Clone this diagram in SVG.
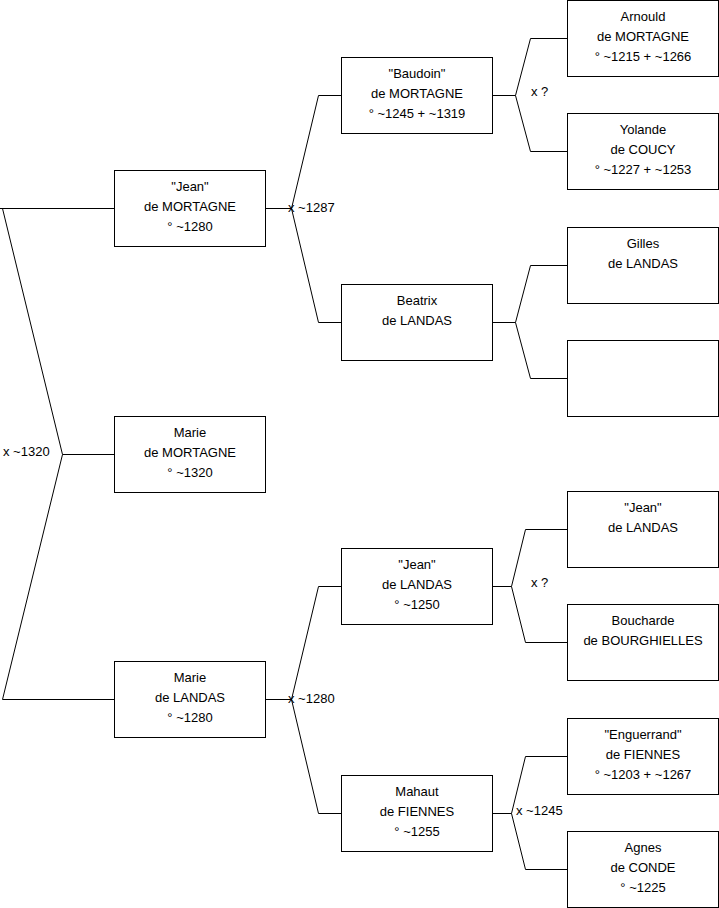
<svg xmlns="http://www.w3.org/2000/svg" width="719" height="908" viewBox="0 0 719 908">
<style>
.box{fill:#fff;stroke:#000;stroke-width:1}
.ln{fill:none;stroke:#000;stroke-width:1}
text{font-family:"Liberation Sans",Arial,sans-serif;font-size:13px;fill:#000}
.c{text-anchor:middle}
</style>
<rect width="719" height="908" fill="#fff"/>
<g id="connectors">
<polyline class="ln" points="114.5,208.5 0,208.5"/>
<polyline class="ln" points="2.5,208.5 62.5,454.5 2.5,699.5 114.5,699.5"/>
<line class="ln" x1="62.5" y1="454.5" x2="114.5" y2="454.5"/>
<line class="ln" x1="265.5" y1="208.5" x2="291.5" y2="208.5"/>
<polyline class="ln" points="341.5,95.5 318.5,95.5 291.5,208.5 318.5,322.5 341.5,322.5"/>
<line class="ln" x1="265.5" y1="699.5" x2="291.5" y2="699.5"/>
<polyline class="ln" points="341.5,586.5 318.5,586.5 291.5,699.5 318.5,813.5 341.5,813.5"/>
<line class="ln" x1="492.5" y1="95.5" x2="515.5" y2="95.5"/>
<polyline class="ln" points="567.5,38.5 530.5,38.5 515.5,95.5 530.5,151.5 567.5,151.5"/>
<line class="ln" x1="492.5" y1="322.5" x2="515.5" y2="322.5"/>
<polyline class="ln" points="567.5,265.5 530.5,265.5 515.5,322.5 530.5,378.5 567.5,378.5"/>
<line class="ln" x1="492.5" y1="586.5" x2="511.5" y2="586.5"/>
<polyline class="ln" points="567.5,529.5 525.5,529.5 511.5,586.5 525.5,642.5 567.5,642.5"/>
<line class="ln" x1="492.5" y1="813.5" x2="511.5" y2="813.5"/>
<polyline class="ln" points="567.5,756.5 525.5,756.5 511.5,813.5 525.5,869.5 567.5,869.5"/>
<text x="3" y="456">x ~1320</text>
<text x="288" y="212">x ~1287</text>
<text x="288" y="703">x ~1280</text>
<text x="531" y="96">x ?</text>
<text x="531" y="587">x ?</text>
<text x="516" y="815">x ~1245</text>
</g>
<g id="jean-mortagne"><rect class="box" x="114.5" y="170.5" width="151" height="76"/><text class="c" x="190" y="191">"Jean"</text><text class="c" x="190" y="211">de MORTAGNE</text><text class="c" x="190" y="231">° ~1280</text></g>
<g id="marie-mortagne"><rect class="box" x="114.5" y="416.5" width="151" height="76"/><text class="c" x="190" y="437">Marie</text><text class="c" x="190" y="457">de MORTAGNE</text><text class="c" x="190" y="477">° ~1320</text></g>
<g id="marie-landas"><rect class="box" x="114.5" y="661.5" width="151" height="76"/><text class="c" x="190" y="682">Marie</text><text class="c" x="190" y="702">de LANDAS</text><text class="c" x="190" y="722">° ~1280</text></g>
<g id="baudoin"><rect class="box" x="341.5" y="57.5" width="151" height="76"/><text class="c" x="417" y="78">"Baudoin"</text><text class="c" x="417" y="98">de MORTAGNE</text><text class="c" x="417" y="118">° ~1245 + ~1319</text></g>
<g id="beatrix"><rect class="box" x="341.5" y="284.5" width="151" height="76"/><text class="c" x="417" y="305">Beatrix</text><text class="c" x="417" y="325">de LANDAS</text></g>
<g id="jean-landas-2"><rect class="box" x="341.5" y="548.5" width="151" height="76"/><text class="c" x="417" y="569">"Jean"</text><text class="c" x="417" y="589">de LANDAS</text><text class="c" x="417" y="609">° ~1250</text></g>
<g id="mahaut"><rect class="box" x="341.5" y="775.5" width="151" height="76"/><text class="c" x="417" y="796">Mahaut</text><text class="c" x="417" y="816">de FIENNES</text><text class="c" x="417" y="836">° ~1255</text></g>
<g id="arnould"><rect class="box" x="567.5" y="0.5" width="151" height="76"/><text class="c" x="643" y="21">Arnould</text><text class="c" x="643" y="41">de MORTAGNE</text><text class="c" x="643" y="61">° ~1215 + ~1266</text></g>
<g id="yolande"><rect class="box" x="567.5" y="113.5" width="151" height="76"/><text class="c" x="643" y="134">Yolande</text><text class="c" x="643" y="154">de COUCY</text><text class="c" x="643" y="174">° ~1227 + ~1253</text></g>
<g id="gilles"><rect class="box" x="567.5" y="227.5" width="151" height="76"/><text class="c" x="643" y="248">Gilles</text><text class="c" x="643" y="268">de LANDAS</text></g>
<g id="unknown"><rect class="box" x="567.5" y="340.5" width="151" height="76"/></g>
<g id="jean-landas-3"><rect class="box" x="567.5" y="491.5" width="151" height="76"/><text class="c" x="643" y="512">"Jean"</text><text class="c" x="643" y="532">de LANDAS</text></g>
<g id="boucharde"><rect class="box" x="567.5" y="604.5" width="151" height="76"/><text class="c" x="643" y="625">Boucharde</text><text class="c" x="643" y="645">de BOURGHIELLES</text></g>
<g id="enguerrand"><rect class="box" x="567.5" y="718.5" width="151" height="76"/><text class="c" x="643" y="739">"Enguerrand"</text><text class="c" x="643" y="759">de FIENNES</text><text class="c" x="643" y="779">° ~1203 + ~1267</text></g>
<g id="agnes"><rect class="box" x="567.5" y="831.5" width="151" height="76"/><text class="c" x="643" y="852">Agnes</text><text class="c" x="643" y="872">de CONDE</text><text class="c" x="643" y="892">° ~1225</text></g>
</svg>
